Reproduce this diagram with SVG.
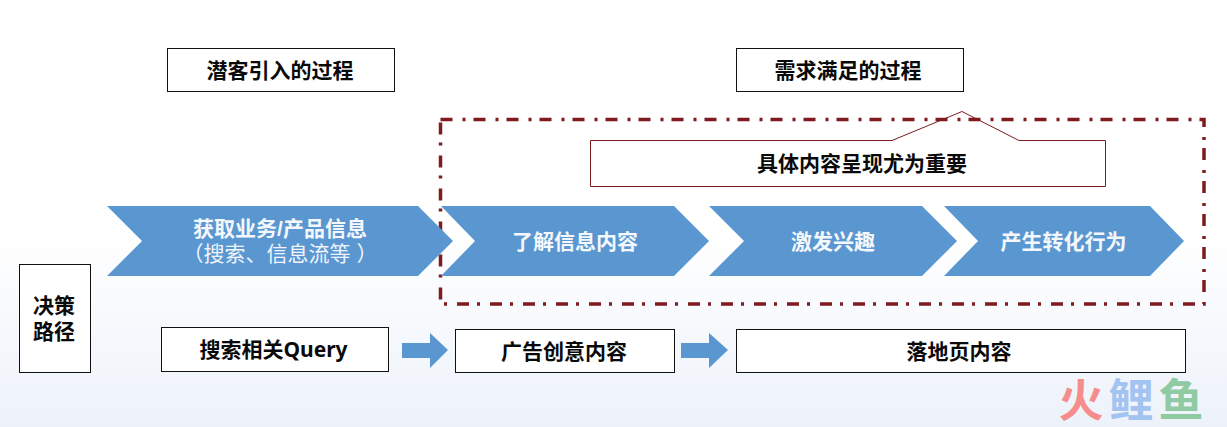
<svg xmlns="http://www.w3.org/2000/svg" width="1227" height="427" viewBox="0 0 1227 427">
<defs>
<linearGradient id="bg" x1="0" y1="0" x2="0" y2="1"><stop offset="0" stop-color="#ffffff"/><stop offset="0.55" stop-color="#ffffff"/><stop offset="1" stop-color="#edf2fa"/></linearGradient>
</defs>
<style>
text{font-family:"Liberation Sans","Noto Sans CJK SC",sans-serif;text-anchor:middle}
.b{fill:#fff;stroke:#111;stroke-width:1}
.c{fill:#5a97d1}
.a{fill:#5a97d1}
.k{font-size:21px;font-weight:700;fill:#0a0a0a}
.w{font-size:21px;font-weight:700;fill:#f4f7fb}
.l{font-size:21px;font-weight:400;fill:#f0f4fa}
.m{font-size:45px;font-weight:700}
.q{font-family:"Noto Sans",sans-serif}
</style>
<rect width="1227" height="427" fill="url(#bg)"/>
<g id="node-potential"><rect class="b" x="167.5" y="48.5" width="227" height="43"/><text class="k" x="280" y="78">潜客引入的过程</text></g>
<g id="node-demand"><rect class="b" x="736.5" y="48.5" width="227" height="43"/><text class="k" x="848" y="78">需求满足的过程</text></g>
<g id="connectors">
<path d="M440.5 119.5H1204V304H440.5Z" fill="none" stroke="#7f1a1f" stroke-width="3.5" stroke-dasharray="12 10 3 8"/>
<path class="a" d="M402 343H430V333L448 350L430 368V358H402Z"/>
<path class="a" d="M681 343H709V333L728 350L709 368V358H681Z"/>
</g>
<g id="node-callout"><rect x="590.5" y="140.5" width="515" height="46" fill="#fff"/><path d="M590.5 140.5H892L962 111.5L1019 140.5H1105.5V186.5H590.5Z" fill="none" stroke="#7b1c20"/><text class="k" x="862" y="171">具体内容呈现尤为重要</text></g>
<g id="node-acquire"><path class="c" d="M107 206H418L453 241L418 276H107L142 241Z"/><text class="w" x="280" y="236">获取业务/产品信息</text><text class="l" x="280" y="261">（搜索、信息流等 ）</text></g>
<g id="node-understand"><path class="c" d="M441 206H674L709 241L674 276H441L475 241Z"/><text class="w" x="575" y="249">了解信息内容</text></g>
<g id="node-interest"><path class="c" d="M709 206H922L957 241L922 276H709L744 241Z"/><text class="w" x="833" y="249">激发兴趣</text></g>
<g id="node-convert"><path class="c" d="M944 206H1150L1184 241L1150 276H944L978 241Z"/><text class="w" x="1063.5" y="249">产生转化行为</text></g>
<g id="node-path"><rect class="b" x="19.5" y="264.5" width="71" height="108"/><text class="k" x="54" y="313">决策</text><text class="k" x="54" y="339">路径</text></g>
<g id="node-query"><rect class="b" x="161.5" y="327.5" width="227" height="44"/><text class="k" x="273.5" y="357">搜索相关<tspan class="q">Query</tspan></text></g>
<g id="node-creative"><rect class="b" x="455.5" y="329.5" width="219" height="43"/><text class="k" x="564" y="359">广告创意内容</text></g>
<g id="node-landing"><rect class="b" x="736.5" y="329.5" width="449" height="43"/><text class="k" x="959" y="359">落地页内容</text></g>
<g id="watermark">
<text class="m" x="1081" y="417" fill="#f58d8d">火</text>
<text class="m" x="1131" y="417" fill="#a3c3f0">鲤</text>
<text class="m" x="1181" y="417" fill="#8fcaa3">鱼</text>
</g>
</svg>
